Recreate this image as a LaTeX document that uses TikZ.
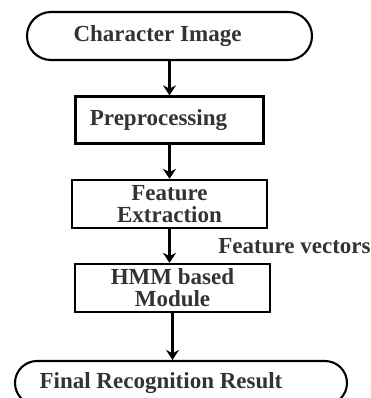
\documentclass[tikz,border=0pt]{standalone}
\usepackage{fontspec}
\setmainfont{Liberation Serif}
\usetikzlibrary{positioning}
\usetikzlibrary{arrows.meta}

\definecolor{inkgray}{HTML}{333333}
\newcommand{\boxfont}{\bfseries\fontsize{23}{22}\selectfont}

\tikzset{
	terminal/.style={draw, line width=2.1pt, minimum height=44pt, rounded corners=22pt, inner sep=2pt, font=\boxfont, text=inkgray},
	process/.style={draw, line width=2.3pt, minimum height=48pt, align=center, inner sep=2pt, font=\boxfont, text=inkgray},
	flowlabel/.style={inner sep=0pt, font=\boxfont, text=inkgray},
	textleft/.style={execute at end node={\hspace*{#1}}}
}

\begin{document}
\begin{tikzpicture}[>={Stealth[length=10pt,width=13pt]}, node distance=84pt, x=1pt, y=1pt]
				\useasboundingbox (0,0) rectangle (371,-398);

				\node[terminal, minimum width=285pt, minimum height=48pt, rounded corners=24pt, textleft=24pt] (0) at (169.5,-36) {Character Image};
				\node[below of=0, process, minimum width=188pt, minimum height=47pt, textleft=22pt] (1) {Preprocessing};
				\node[below of=1, process, minimum width=195pt] (2) {Feature\\Extraction};
				\node[below of=2, process, minimum width=195pt, xshift=3pt] (3) {HMM based\\Module};

				\begin{scope}[node distance=95pt]
				\node[below of=3, terminal, minimum width=332pt, xshift=8.5pt, textleft=40pt] (4) {Final Recognition Result};
				\end{scope}
				{
				\path[->, line width=2.8pt]
				(0) edge (1)

				(1) edge (2)

				(2.south) edge node[midway, right=47.5pt, flowlabel]{Feature vectors} (2.south |- 3.north)

				(3.south) edge (3.south |- 4.north)
					;
				}
\end{tikzpicture}
\end{document}
